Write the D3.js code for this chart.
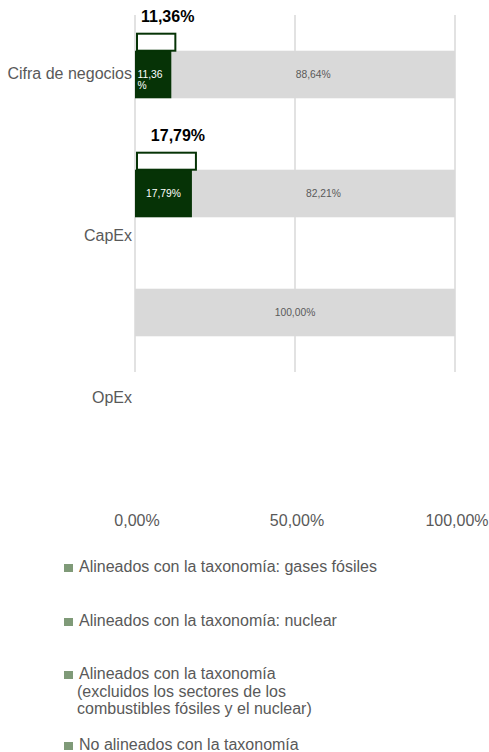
<!DOCTYPE html>
<meta charset="utf-8">
<script src="https://d3js.org/d3.v7.min.js"></script>
<style>
  body { margin: 0; background: #fff; }
  text { font-family: "Liberation Sans", Arial, sans-serif; }
</style>
<div id="chart"></div>
<script>
// data
const categories = ["Cifra de negocios", "CapEx", "OpEx"];
const aligned = [11.36, 17.79, 0];
const notAligned = [88.64, 82.21, 100];
const xTicks = [0, 50, 100];
const legendItems = [
  ["Alineados con la taxonomía: gases fósiles"],
  ["Alineados con la taxonomía: nuclear"],
  ["Alineados con la taxonomía", "(excluidos los sectores de los", "combustibles fósiles y el nuclear)"],
  ["No alineados con la taxonomía"]
];

const W = 489, H = 752;
const darkGreen = "#063306", grey = "#d9d9d9", textGrey = "#595959";
const fmt = v => v.toFixed(2).replace(".", ",") + "%";

const svg = d3.select("#chart").append("svg")
  .attr("width", W).attr("height", H);

const x = d3.scaleLinear().domain([0, 100]).range([135, 455]);
const y = d3.scaleBand().domain(categories).range([15, 372])
  .paddingInner(0.6).paddingOuter(0.3);
const yLab = d3.scalePoint().domain(categories).range([73, 397]);

// gridlines
svg.append("g").selectAll("line")
  .data(xTicks)
  .join("line")
    .attr("x1", d => x(d)).attr("x2", d => x(d))
    .attr("y1", 15).attr("y2", 372)
    .attr("stroke", grey).attr("stroke-width", 1.5);

// x tick labels
svg.append("g").selectAll("text")
  .data(xTicks)
  .join("text")
    .attr("x", d => x(d) + 2).attr("y", 526)
    .attr("text-anchor", "middle")
    .attr("font-size", 16).attr("fill", textGrey)
    .text(d => fmt(d));

// category labels
svg.append("g").selectAll("text")
  .data(categories)
  .join("text")
    .attr("x", 132).attr("y", d => yLab(d) + 6)
    .attr("text-anchor", "end")
    .attr("font-size", 16).attr("fill", textGrey)
    .text(d => d);

const rows = categories.map((c, i) => ({cat: c, a: aligned[i], n: notAligned[i]}));

// not aligned segments
svg.append("g").selectAll("rect")
  .data(rows)
  .join("rect")
    .attr("x", d => x(d.a)).attr("y", d => y(d.cat))
    .attr("width", d => x(d.a + d.n) - x(d.a))
    .attr("height", y.bandwidth())
    .attr("fill", grey);

svg.append("g").selectAll("text")
  .data(rows)
  .join("text")
    .attr("x", d => (x(d.a) + x(d.a + d.n)) / 2)
    .attr("y", d => y(d.cat) + y.bandwidth() / 2 + 3.5)
    .attr("text-anchor", "middle")
    .attr("font-size", 10.3).attr("fill", textGrey)
    .text(d => fmt(d.n));

const al = rows.filter(d => d.a > 0);

// aligned segments
svg.append("g").selectAll("rect")
  .data(al)
  .join("rect")
    .attr("x", x(0)).attr("y", d => y(d.cat))
    .attr("width", d => x(d.a) - x(0))
    .attr("height", y.bandwidth())
    .attr("fill", darkGreen);

// labels inside aligned segments (wrap when too narrow)
al.forEach(d => {
  const w = x(d.a) - x(0);
  const cy = y(d.cat) + y.bandwidth() / 2;
  const t = svg.append("text")
    .attr("font-size", 10.3).attr("fill", "#ffffff")
    .attr("x", (x(0) + x(d.a)) / 2).attr("y", cy + 3.5)
    .attr("text-anchor", "middle")
    .text(fmt(d.a));
  if (t.node().getComputedTextLength() > w - 4) {
    const s = fmt(d.a);
    t.text(null).attr("text-anchor", "start").attr("x", x(0) + 2.5).attr("y", cy + 3);
    t.append("tspan").attr("x", x(0) + 2.5).text(s.slice(0, -1));
    t.append("tspan").attr("x", x(0) + 2.5).attr("dy", 11.5).text("%");
  }
});

// outline boxes above the aligned bars
svg.append("g").selectAll("rect")
  .data(al)
  .join("rect")
    .attr("x", x(0) + 2).attr("y", d => y(d.cat) - 17)
    .attr("width", d => x(d.a) - x(0) + 2)
    .attr("height", 17)
    .attr("fill", "#fff")
    .attr("stroke", darkGreen).attr("stroke-width", 2);

svg.append("g").selectAll("text")
  .data(al)
  .join("text")
    .attr("x", d => (x(0) + x(d.a)) / 2 + 14.5)
    .attr("y", d => y(d.cat) - 29)
    .attr("text-anchor", "middle")
    .attr("font-size", 16).attr("font-weight", "bold").attr("fill", "#000")
    .text(d => fmt(d.a));

// legend
const legendY = [572, 626, 679, 750];
const lg = svg.append("g");
legendItems.forEach((lines, i) => {
  lg.append("rect")
    .attr("x", 64).attr("y", legendY[i] - 8).attr("width", 9).attr("height", 8)
    .attr("fill", "#7f9a78");
  lines.forEach((s, j) => {
    lg.append("text")
      .attr("x", j === 0 ? 79 : 77).attr("y", legendY[i] + j * 17.7)
      .attr("font-size", 16).attr("fill", textGrey)
      .text(s);
  });
});
</script>
